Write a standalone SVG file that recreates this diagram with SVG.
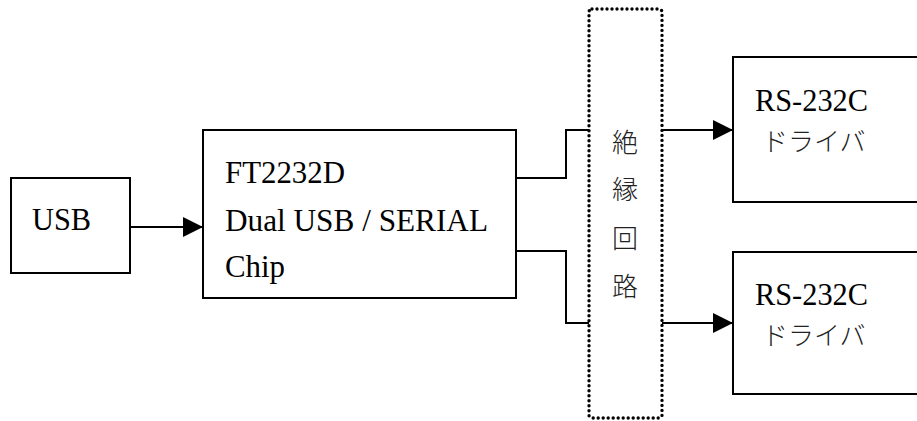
<svg xmlns="http://www.w3.org/2000/svg" width="917" height="421" viewBox="0 0 917 421">
<defs>
<marker id="arr" markerWidth="20" markerHeight="20" viewBox="0 0 20 20" refX="20" refY="10" orient="auto" markerUnits="userSpaceOnUse">
<path d="M0,0 L20,10 L0,20 Z" fill="#000"/>
</marker>
</defs>
<style>
.box{fill:#fff;stroke:#000;stroke-width:2}
.dot{fill:none;stroke:#000;stroke-width:3.4;stroke-dasharray:0 5;stroke-linecap:round}
.ln{fill:none;stroke:#000;stroke-width:2}
.lat{font-family:"Liberation Serif","Noto Sans CJK JP",serif;font-size:30.5px;fill:#000}
.jp{font-family:"Noto Sans CJK JP",sans-serif;font-size:26px;fill:#222;font-weight:300}
</style>
<rect width="917" height="421" fill="#fff"/>
<g id="connectors">
<path class="ln" d="M130,227 H203" marker-end="url(#arr)"/>
<path class="ln" d="M516,178 H566 V130 H589"/>
<path class="ln" d="M516,251 H566 V323 H589"/>
<path class="ln" d="M662,130 H733" marker-end="url(#arr)"/>
<path class="ln" d="M662,323 H733" marker-end="url(#arr)"/>
</g>
<g id="usb">
<rect class="box" x="11" y="178" width="119" height="95"/>
<text class="lat" x="32" y="230" textLength="59" lengthAdjust="spacingAndGlyphs">USB</text>
</g>
<g id="ft2232d">
<rect class="box" x="203" y="130" width="313" height="168"/>
<text class="lat" x="225" y="183" textLength="120" lengthAdjust="spacingAndGlyphs">FT2232D</text>
<text class="lat" x="225" y="231" textLength="263" lengthAdjust="spacingAndGlyphs">Dual USB / SERIAL</text>
<text class="lat" x="225" y="277" textLength="60" lengthAdjust="spacingAndGlyphs">Chip</text>
</g>
<g id="isolation">
<rect class="dot" x="589" y="9" width="73" height="409" rx="3"/>
<text class="jp" x="625" y="152" text-anchor="middle">絶</text>
<text class="jp" x="625" y="199" text-anchor="middle">縁</text>
<text class="jp" x="625" y="248" text-anchor="middle">回</text>
<text class="jp" x="625" y="296" text-anchor="middle">路</text>
</g>
<g id="driver1">
<rect class="box" x="733" y="57" width="200" height="145"/>
<text class="lat" x="755" y="111" textLength="113" lengthAdjust="spacingAndGlyphs">RS-232C</text>
<text class="jp" x="762" y="151">ドライバ</text>
</g>
<g id="driver2">
<rect class="box" x="733" y="252" width="200" height="142"/>
<text class="lat" x="755" y="305" textLength="113" lengthAdjust="spacingAndGlyphs">RS-232C</text>
<text class="jp" x="762" y="345">ドライバ</text>
</g>
</svg>
